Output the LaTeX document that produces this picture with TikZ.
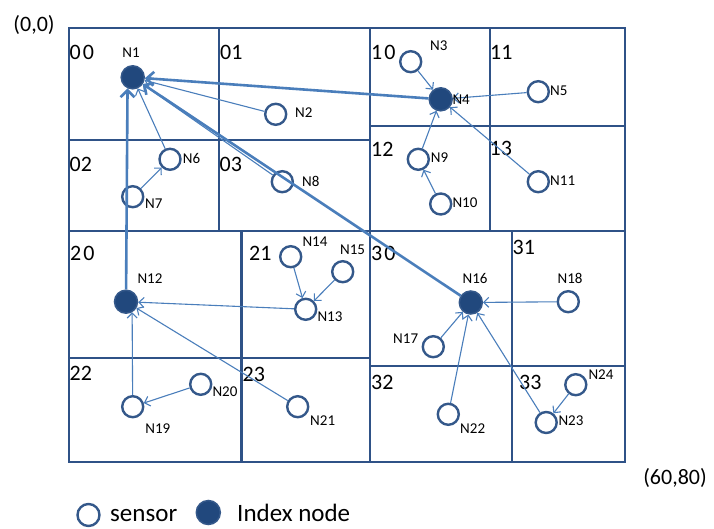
\documentclass[tikz,border=0pt]{standalone}
\usepackage{fontspec}
\setmainfont{Carlito}
\usepackage{tikz}
\usetikzlibrary{positioning,arrows.meta}
\definecolor{gridblue}{RGB}{47,82,135}
\definecolor{ringblue}{RGB}{52,88,138}
\definecolor{fillblue}{RGB}{33,72,125}
\definecolor{linkblue}{RGB}{74,126,187}
\tikzstyle{sensor}=[%
      circle, draw=ringblue, line width=2.4pt, fill=white,
      minimum size=21pt, inner sep=0pt
]
\tikzstyle{idx}=[%
      circle, draw=ringblue, line width=1.5pt, fill=fillblue,
      minimum size=23pt, inner sep=0pt
]
\tikzstyle{lbl}=[%
      font=\fontsize{15}{17}\selectfont, inner sep=0pt
]
\tikzstyle{cell}=[%
      font=\fontsize{22}{24}\selectfont, inner sep=0pt, anchor=west
]
\tikzstyle{corner}=[%
      font=\fontsize{22}{24}\selectfont, inner sep=0pt
]
\tikzstyle{legend}=[%
      font=\fontsize{25}{27}\selectfont, inner sep=0pt, anchor=base west
]
\tikzstyle{link}=[%
      draw=linkblue, line width=1.1pt, -{Straight Barb[length=5pt,width=10pt]}
]
\tikzstyle{trunk}=[%
      draw=linkblue, line width=2.6pt, -{Straight Barb[length=7pt,width=14pt]}
]

\begin{document}
\begin{tikzpicture}[x=1pt, y=-1pt]
    \useasboundingbox (0,0) rectangle (714,529);

    % grid of cells
    \draw[gridblue, line width=2.4pt]
          (69,28) rectangle (625,462)
          (219,28) -- (219,231)
          (370,28) -- (370,462)
          (69,140) -- (370,140)
          (490,28) -- (490,231)
          (370,126) -- (625,126)
          (69,231) -- (625,231)
          (241.5,231) -- (241.5,462)
          (69,358) -- (370,358)
          (512,231) -- (512,462)
          (370,366) -- (625,366)
    ;

    \node[cell] (c00) at (69.5,52)  {0\kern2pt0};
    \node[cell] (c01) at (220,52) {01};
    \node[cell] (c10) at (371,52) {1\kern2pt0};
    \node[cell] (c11) at (490,52) {11};
    \node[cell] (c02) at (69.5,164) {02};
    \node[cell] (c03) at (219.5,164) {03};
    \node[cell] (c12) at (371,149) {12};
    \node[cell] (c13) at (489.5,148) {13};
    \node[cell] (c20) at (70,253) {2\kern2pt0};
    \node[cell] (c21) at (249,253) {21};
    \node[cell] (c30) at (371,253) {3\kern2pt0};
    \node[cell] (c31) at (512.5,247) {31};
    \node[cell] (c22) at (69.5,373) {22};
    \node[cell] (c23) at (242.5,374) {23};
    \node[cell] (c32) at (371,382) {32};
    \node[cell] (c33) at (519,382) {33};

    \node[corner] (origin) at (34,25) {(0,0)};
    \node[corner] (far) at (675,478) {(60,80)};

    % nodes
    \node[idx]    (n1)  at (132.7,77.3)  {};
    \node[sensor] (n2)  at (275.7,114.3) {};
    \node[sensor] (n3)  at (410.7,61.7)  {};
    \node[idx]    (n4)  at (440.7,99.3)  {};
    \node[sensor] (n5)  at (538.3,91.7)  {};
    \node[sensor] (n6)  at (170,159.3)   {};
    \node[sensor] (n7)  at (132.7,196.7) {};
    \node[sensor] (n8)  at (282.3,181.7) {};
    \node[sensor] (n9)  at (418.3,159.3) {};
    \node[sensor] (n10) at (440.7,204)   {};
    \node[sensor] (n11) at (538.3,181.7) {};
    \node[idx]    (n12) at (126,301.7)   {};
    \node[sensor] (n13) at (305.7,309.3) {};
    \node[sensor] (n14) at (290.7,256.7) {};
    \node[sensor] (n15) at (342.7,271.7) {};
    \node[idx]    (n16) at (470.8,302.5) {};
    \node[sensor] (n17) at (433.3,346.7) {};
    \node[sensor] (n18) at (568.3,301.7) {};
    \node[sensor] (n19) at (132.7,406.7) {};
    \node[sensor] (n20) at (200.7,384.3) {};
    \node[sensor] (n21) at (297.7,406.7) {};
    \node[sensor] (n22) at (448.3,414.3) {};
    \node[sensor] (n23) at (546.2,422.5) {};
    \node[sensor] (n24) at (575.8,384.7) {};

    \path
          (n2) edge[link] (n1)
          (n6) edge[link] (n1)
          (n7) edge[link] (n6)
          (n8) edge[link] (n1)
          (n3) edge[link] (n4)
          (n5) edge[link] (n4)
          (n9) edge[link] (n4)
          (n10) edge[link] (n9)
          (n11) edge[link] (n4)
          (n13) edge[link] (n12)
          (n14) edge[link] (n13)
          (n15) edge[link] (n13)
          (n19) edge[link] (n12.-60)
          (n20) edge[link] (n19)
          (n21) edge[link] (n12)
          (n17) edge[link] (n16)
          (n18) edge[link] (n16)
          (n22) edge[link] (n16)
          (n23) edge[link] (n16)
          (n24) edge[link] (n23)
          (n4) edge[trunk] (n1)
          (n12) edge[trunk] (n1.245)
          (n16) edge[trunk] (n1)
    ;

    % node names
    \node[lbl] (t1) at (131,53) {N1};
    \node[lbl, anchor=west] (t2) at (295,113) {N2};
    \node[lbl, anchor=west] (t3) at (430,46) {N3};
    \node[lbl, anchor=west] (t4) at (452.3,99.3) {N4};
    \node[lbl, anchor=west] (t5) at (550,91) {N5};
    \node[lbl, anchor=west] (t6) at (182.7,158) {N6};
    \node[lbl, anchor=west] (t7) at (145,203.3) {N7};
    \node[lbl, anchor=west] (t8) at (302,181) {N8};
    \node[lbl, anchor=west] (t9) at (430.7,157.7) {N9};
    \node[lbl, anchor=west] (t10) at (452.3,202.7) {N10};
    \node[lbl, anchor=west] (t11) at (550,181) {N11};
    \node[lbl] (t12) at (150,278.3) {N12};
    \node[lbl, anchor=west] (t13) at (317.3,316.7) {N13};
    \node[lbl, anchor=west] (t14) at (302.3,241.7) {N14};
    \node[lbl] (t15) at (352.5,249.3) {N15};
    \node[lbl] (t16) at (475,278.3) {N16};
    \node[lbl, anchor=east] (t17) at (418.3,338.3) {N17};
    \node[lbl] (t18) at (570,278.3) {N18};
    \node[lbl] (t19) at (157.8,429) {N19};
    \node[lbl, anchor=west] (t20) at (212.3,391.7) {N20};
    \node[lbl, anchor=west] (t21) at (310,421) {N21};
    \node[lbl, anchor=west] (t22) at (460,429) {N22};
    \node[lbl, anchor=west] (t23) at (558.3,420.7) {N23};
    \node[lbl, anchor=west] (t24) at (588.3,375) {N24};

    % legend
    \node[sensor, minimum size=22pt] (keyS) at (88.5,515) {};
    \node[legend] (keyStext) at (110,521.5) {sensor};
    \node[idx, minimum size=24pt] (keyI) at (208.3,512.5) {};
    \node[legend] (keyItext) at (237,521.5) {Index node};
\end{tikzpicture}
\end{document}
